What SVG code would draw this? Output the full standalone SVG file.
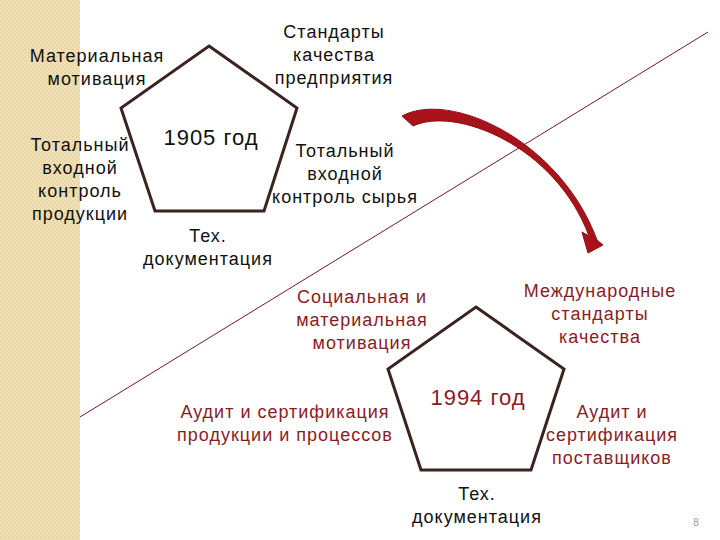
<svg xmlns="http://www.w3.org/2000/svg" width="720" height="540" viewBox="0 0 720 540">
<defs>
<pattern id="weave" width="4" height="4" patternUnits="userSpaceOnUse">
<rect width="4" height="4" fill="#f0e0b6"/>
<rect width="2" height="2" fill="#e9d6a4"/>
<rect x="2" y="2" width="2" height="2" fill="#ecdaab"/>
</pattern>
</defs>
<style>
text{font-family:"Liberation Sans",Arial,sans-serif;font-size:18px;letter-spacing:1px;text-anchor:middle}
.k{fill:#111}
.r{fill:#8a1c1f}
.big{font-size:22px}
.pent{fill:#fff;stroke:#3b2320;stroke-width:3;stroke-linejoin:miter}
</style>
<rect width="720" height="540" fill="#fff"/>
<rect width="80" height="540" fill="url(#weave)"/>
<g id="connectors">
<line x1="80" y1="417" x2="708" y2="32" stroke="#6e1a2e" stroke-width="1"/>
<path d="M402,116 C450,90 560,140 597,240 L603,245 L588,253 L582,232 L589,236 C555,145 455,106 413,126 Z" fill="#a8131a" stroke="#8e0f14" stroke-width="1"/>
</g>
<g id="p1905">
<polygon class="pent" points="209,46 297,108 264,211 155,211 121,108"/>
<text class="k big" x="211" y="145">1905 год</text>
</g>
<g id="t1-left-top"><text class="k" x="97" y="62">Материальная</text><text class="k" x="97" y="85">мотивация</text></g>
<g id="t1-right-top"><text class="k" x="334" y="38">Стандарты</text><text class="k" x="334" y="61">качества</text><text class="k" x="334" y="84">предприятия</text></g>
<g id="t1-left"><text class="k" x="80" y="151">Тотальный</text><text class="k" x="80" y="174">входной</text><text class="k" x="80" y="197">контроль</text><text class="k" x="80" y="220">продукции</text></g>
<g id="t1-right"><text class="k" x="345" y="157">Тотальный</text><text class="k" x="345" y="180">входной</text><text class="k" x="345" y="203">контроль сырья</text></g>
<g id="t1-bottom"><text class="k" x="208" y="242">Тех.</text><text class="k" x="208" y="265">документация</text></g>
<g id="p1994">
<polygon class="pent" points="476,307 564,369 531,470 421,470 388,369"/>
<text class="r big" x="478" y="405">1994 год</text>
</g>
<g id="t2-left-top"><text class="r" x="362" y="303">Социальная и</text><text class="r" x="362" y="326">материальная</text><text class="r" x="362" y="349">мотивация</text></g>
<g id="t2-right-top"><text class="r" x="600" y="297">Международные</text><text class="r" x="600" y="320">стандарты</text><text class="r" x="600" y="343">качества</text></g>
<g id="t2-left"><text class="r" x="285" y="418">Аудит и сертификация</text><text class="r" x="285" y="441">продукции и процессов</text></g>
<g id="t2-right"><text class="r" x="612" y="418">Аудит и</text><text class="r" x="612" y="441">сертификация</text><text class="r" x="612" y="464">поставщиков</text></g>
<g id="t2-bottom"><text class="k" x="477" y="500">Тех.</text><text class="k" x="477" y="523">документация</text></g>
<text x="696" y="526" style="font-size:10px;letter-spacing:0;fill:#999">8</text>
</svg>
